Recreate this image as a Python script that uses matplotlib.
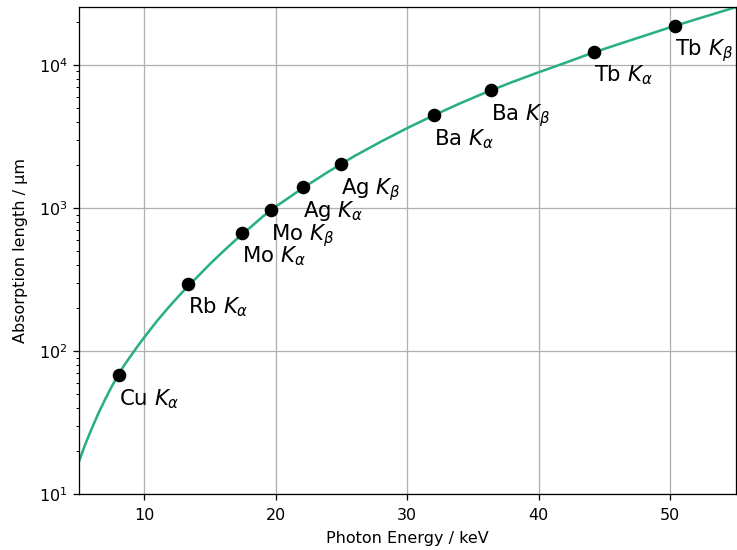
import matplotlib
matplotlib.use("Agg")
import matplotlib.pyplot as plt

# Absorption length curve
energy_curve = [5, 5.5, 6, 6.5, 7, 7.5, 8, 8.5, 9, 9.5, 10, 11, 12, 13, 14, 15, 16, 17, 18,
                19, 20, 22, 24, 26, 28, 30, 32, 34, 36, 38, 40, 42, 44, 46, 48, 50, 52, 55]
length_curve = [16.7, 22.3, 28.8, 36.7, 45.7, 56.2, 68.1, 80.5, 93.5, 108.6, 125, 164, 210,
                265, 328, 407, 498, 604, 723, 871, 1023, 1368, 1795, 2312, 2911, 3622, 4436,
                5383, 6442, 7603, 8892, 10330, 12080, 13900, 15960, 18320, 20890, 25350]

# Emission lines
line_labels = [r"Cu $K_\alpha$", r"Rb $K_\alpha$", r"Mo $K_\alpha$", r"Mo $K_\beta$",
               r"Ag $K_\alpha$", r"Ag $K_\beta$", r"Ba $K_\alpha$", r"Ba $K_\beta$",
               r"Tb $K_\alpha$", r"Tb $K_\beta$"]
line_energy = [8.05, 13.35, 17.45, 19.6, 22.1, 24.95, 32.05, 36.38, 44.2, 50.38]
line_length = [67.5, 295, 670, 968, 1400, 2028, 4450, 6640, 12400, 18840]

dpi = 115
fig = plt.figure(figsize=(737 / dpi, 550 / dpi), dpi=dpi)
ax = fig.add_axes([0.1068, 0.1018, 0.8918, 0.8852])

ax.plot(energy_curve, length_curve, color="#2ab07f", lw=1.6, zorder=2)
ax.plot(line_energy, line_length, "o", color="black", ms=7.5, zorder=3)
for lab, e, l in zip(line_labels, line_energy, line_length):
    ax.annotate(lab, (e, l), xytext=(0, -7.5), textcoords="offset points",
                ha="left", va="top", fontsize=13.3)

ax.set_yscale("log")
ax.set_xlim(5, 55)
ax.set_ylim(10, 25350)
ax.grid(True, which="major", color="#b0b0b0", lw=0.8)
ax.set_axisbelow(True)
ax.tick_params(axis="x", pad=5)
ax.set_xlabel("Photon Energy / keV", labelpad=5)
ax.set_ylabel("Absorption length / µm", labelpad=6.5)

fig.savefig("out.png", dpi=dpi)
